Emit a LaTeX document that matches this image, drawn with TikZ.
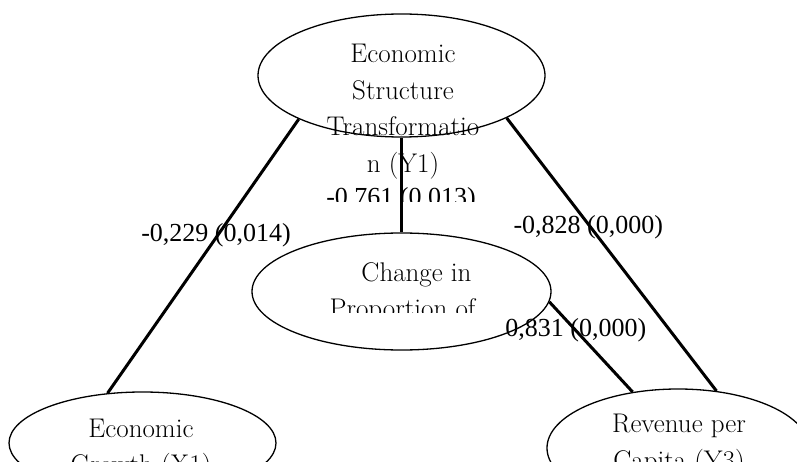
\documentclass[tikz,border=0pt]{standalone}
\usepackage{fontspec}
\newfontfamily\coeffont{Liberation Serif}
\usetikzlibrary{shapes.geometric}
\begin{document}
\begin{tikzpicture}
	[x=1pt, y=-1pt,
	 var/.style={ellipse, draw, line width=1.3pt, inner sep=0pt},
	 vartext/.style={anchor=north, align=center, inner sep=0pt, font=\fontsize{27}{36.5}\selectfont},
	 coef/.style={anchor=base, inner sep=0pt, font=\coeffont\fontsize{26}{30}\selectfont},
	 link/.style={line width=3pt}]
	\useasboundingbox (0,0) rectangle (797,462);
	\clip (0,0) rectangle (797,462);
	\node[var, minimum width=287pt, minimum height=123pt] (y1) at (401.5,75.5) {};
	\node[var, minimum width=299pt, minimum height=117pt] (y2) at (401.5,291.5) {};
	\node[var, minimum width=267pt, minimum height=102pt] (x1) at (142.5,443) {};
	\node[var, minimum width=262pt, minimum height=118pt] (y3) at (678,448) {};
	\node[vartext] (y1text) at (403,44.3) {Economic\\Structure\\Transformatio\\n (Y1)};
	\begin{scope}
		\clip (240,250) rectangle (560,312);
		\node[vartext] (y2text) at (402.5,262.3) {\hspace*{28pt}Change in\\Proportion of};
	\end{scope}
	\node[vartext] (x1text) at (141,418.9) {Economic\\Growth (X1)};
	\node[vartext] (y3text) at (679,414.3) {Revenue per\\Capita (Y3)};
	\draw[link] (y1.203) -- (x1.125);
	\draw[link] (y1.south) -- (y2.north);
	\draw[link] (y1.338) -- (y3.56);
	\draw[link] (y2.356) -- (y3.129);
	\node[coef] (c1) at (216,242) {-0,229 (0,014)};
	\begin{scope}
		\clip (300,150) rectangle (500,202);
		\node[coef] (c2) at (401,205.8) {-0,761 (0,013)};
	\end{scope}
	\node[coef] (c3) at (588.3,233.3) {-0,828 (0,000)};
	\node[coef] (c4) at (575.8,336) {0,831 (0,000)};
\end{tikzpicture}
\end{document}
